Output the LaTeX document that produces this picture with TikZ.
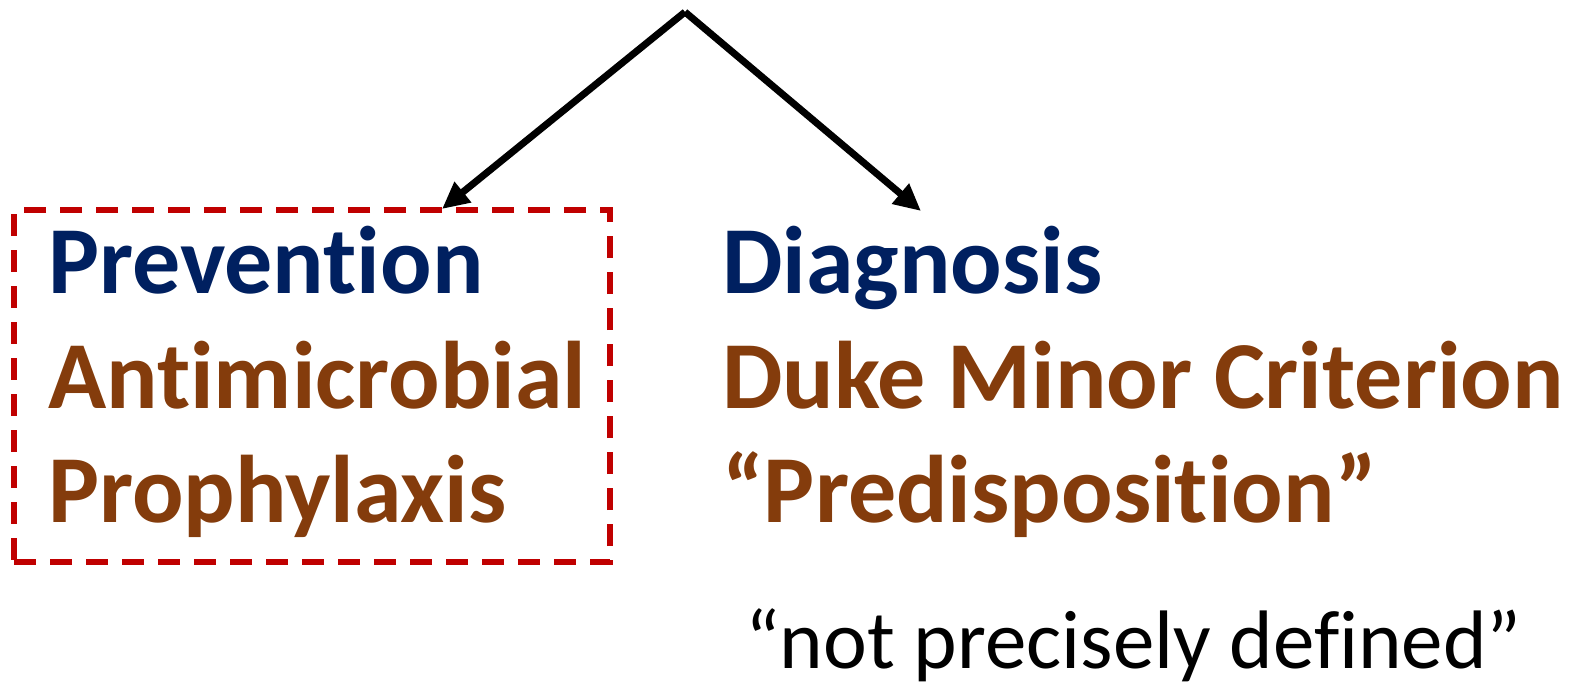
\documentclass[tikz,border=0pt]{standalone}
\usepackage{fontspec}
\setmainfont{Carlito}[Ligatures={NoCommon},RawFeature={-liga;-dlig}]
\usetikzlibrary{arrows.meta}
\definecolor{hblue}{HTML}{002060}
\definecolor{hbrown}{HTML}{843C0C}
\definecolor{hred}{HTML}{C00000}
\begin{document}
\begin{tikzpicture}[x=1pt,y=-1pt,
  bigtxt/.style={anchor=base west,inner sep=0pt,font=\fontsize{96}{110}\selectfont\bfseries},
  headtxt/.style={bigtxt,text=hblue},
  subtxt/.style={bigtxt,text=hbrown},
  notetxt/.style={anchor=base west,inner sep=0pt,font=\fontsize{83}{100}\selectfont},
  conn/.style={line width=7pt,-{Triangle[length=27pt,width=25pt]}},
  dashbox/.style={draw=hred,line width=5.5pt,dash pattern=on 22pt off 14pt}]
\useasboundingbox (0,0) rectangle (1575,688);
\node[dashbox,minimum width=596pt,minimum height=352pt,inner sep=0pt] (box) at (312,386) {};
\node[headtxt] (prev) at (48,293) {Prevention};
\node[subtxt] (anti) at (48,408) {Antimicrobial};
\node[subtxt] (prop) at (48,522) {Prophylaxis};
\node[headtxt] (diag) at (722,293) {Diagnosis};
\node[subtxt] (duke) at (722,408) {Duke Minor Criterion};
\node[subtxt] (pred) at (722,522) {“Predisposition”};
\node[notetxt] (note) at (745,668) {“not precisely defined”};
\coordinate (apex) at (685,12);
\coordinate (ltip) at (442,209);
\coordinate (rtip) at (921,211);
\draw[conn] (apex) -- (ltip);
\draw[conn] (apex) -- (rtip);
\end{tikzpicture}
\end{document}
